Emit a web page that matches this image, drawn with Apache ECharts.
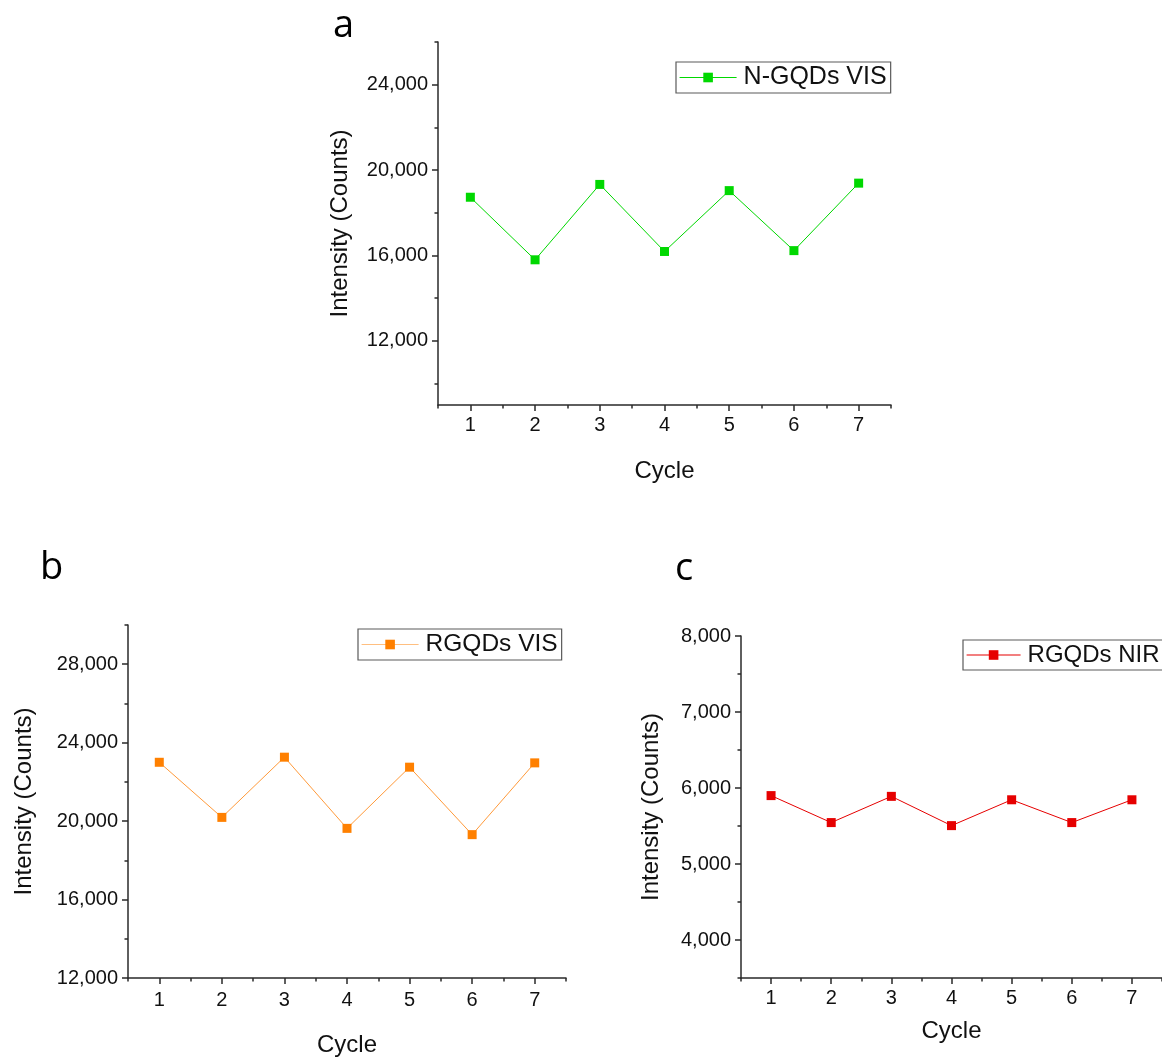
<!DOCTYPE html>
<html>
<head>
<meta charset="utf-8">
<title>Intensity vs Cycle</title>
<script src="https://cdn.jsdelivr.net/npm/echarts@6/dist/echarts.min.js"></script>
<style>
  html, body { margin: 0; padding: 0; background: #ffffff; }
  #chart { width: 1162px; height: 1059px; }
</style>
</head>
<body>
<div id="chart"></div>
<script>
// Cycle numbers shared by all three panels
const cycles = [1, 2, 3, 4, 5, 6, 7];

// Emission intensity per cycle (counts)
const ngqdsVis = [18730, 15800, 19330, 16190, 19040, 16230, 19390];
const rgqdsVis = [23000, 20190, 23260, 19630, 22750, 19310, 22970];
const rgqdsNir = [5900, 5545, 5890, 5505, 5845, 5545, 5845];

// Series names
const seriesNames = ['N-GQDs VIS', 'RGQDs VIS', 'RGQDs NIR'];

// Axis ticks: labelled (major) and unlabelled (minor)
const xTicks = [1, 2, 3, 4, 5, 6, 7];
const xMinorTicks = [0.5, 1.5, 2.5, 3.5, 4.5, 5.5, 6.5, 7.5];
const yTicksA = [12000, 16000, 20000, 24000];
const yMinorA = [10000, 14000, 18000, 22000, 26000];
const yTicksB = [12000, 16000, 20000, 24000, 28000];
const yMinorB = [14000, 18000, 22000, 26000, 30000];
const yTicksC = [4000, 5000, 6000, 7000, 8000];
const yMinorC = [3500, 4500, 5500, 6500, 7500];

const FONT = '"Liberation Sans", Arial, sans-serif';
const AXIS_COLOR = '#2a2a2a';
const TEXT_COLOR = '#111111';

const panels = [
  {
    name: seriesNames[0], values: ngqdsVis, color: '#00d800', lineColor: '#00d800', legendLine: '#00d800',
    grid: { left: 438, top: 42, width: 453, height: 363 },
    yMin: 9000, yMax: 26000, yTicks: yTicksA, yMinor: yMinorA,
    yNameGap: 86, xNameGap: 54, xLabelMargin: 10,
    legend: { left: 676, top: 62, fontSize: 25, itemWidth: 57 }
  },
  {
    name: seriesNames[1], values: rgqdsVis, color: '#ff8000', lineColor: '#ff9a3a', legendLine: '#ffbf80',
    grid: { left: 128, top: 625, width: 438, height: 353 },
    yMin: 12000, yMax: 30000, yTicks: yTicksB, yMinor: yMinorB,
    yNameGap: 92, xNameGap: 55, xLabelMargin: 12,
    legend: { left: 358, top: 629, fontSize: 24.5, itemWidth: 57 }
  },
  {
    name: seriesNames[2], values: rgqdsNir, color: '#e60000', lineColor: '#e60000', legendLine: '#e60000',
    grid: { left: 741, top: 636, width: 422, height: 342 },
    yMin: 3500, yMax: 8000, yTicks: yTicksC, yMinor: yMinorC,
    yNameGap: 78, xNameGap: 41, xLabelMargin: 10,
    legend: { left: 963, top: 640, fontSize: 24, itemWidth: 54 }
  }
];

const grids = [], xAxes = [], yAxes = [], series = [], legends = [];

panels.forEach((p, i) => {
  grids.push(Object.assign({ containLabel: false }, p.grid));

  // Major x axis (labelled)
  xAxes.push({
    type: 'value', gridIndex: i, position: 'bottom', min: 0.5, max: 7.5,
    name: 'Cycle', nameLocation: 'middle', nameGap: p.xNameGap,
    nameTextStyle: { fontFamily: FONT, fontSize: 24, color: TEXT_COLOR },
    axisLine: { show: true, onZero: false, lineStyle: { color: AXIS_COLOR, width: 1.5 } },
    axisTick: { show: true, inside: false, length: 6, customValues: xTicks, lineStyle: { color: AXIS_COLOR, width: 1.5 } },
    axisLabel: { customValues: xTicks, margin: p.xLabelMargin, fontFamily: FONT, fontSize: 20, color: TEXT_COLOR },
    splitLine: { show: false }
  });
  // Minor x ticks
  xAxes.push({
    type: 'value', gridIndex: i, position: 'bottom', min: 0.5, max: 7.5,
    axisLine: { show: false, onZero: false },
    axisTick: { show: true, inside: false, length: 3.5, customValues: xMinorTicks, lineStyle: { color: AXIS_COLOR, width: 1.5 } },
    axisLabel: { show: false },
    splitLine: { show: false }
  });

  // Major y axis (labelled)
  yAxes.push({
    type: 'value', gridIndex: i, position: 'left', min: p.yMin, max: p.yMax,
    name: 'Intensity (Counts)', nameLocation: 'middle', nameGap: p.yNameGap,
    nameTextStyle: { fontFamily: FONT, fontSize: 24, color: TEXT_COLOR },
    axisLine: { show: true, onZero: false, lineStyle: { color: AXIS_COLOR, width: 1.5 } },
    axisTick: { show: true, inside: false, length: 6, customValues: p.yTicks, lineStyle: { color: AXIS_COLOR, width: 1.5 } },
    axisLabel: {
      customValues: p.yTicks, margin: 10, fontFamily: FONT, fontSize: 20, color: TEXT_COLOR,
      formatter: v => Number(v).toLocaleString('en-US')
    },
    splitLine: { show: false }
  });
  // Minor y ticks
  yAxes.push({
    type: 'value', gridIndex: i, position: 'left', min: p.yMin, max: p.yMax,
    axisLine: { show: false, onZero: false },
    axisTick: { show: true, inside: false, length: 3.5, customValues: p.yMinor, lineStyle: { color: AXIS_COLOR, width: 1.5 } },
    axisLabel: { show: false },
    splitLine: { show: false }
  });

  series.push({
    name: p.name, type: 'line',
    xAxisIndex: i * 2, yAxisIndex: i * 2,
    data: cycles.map((c, k) => [c, p.values[k]]),
    symbol: 'rect', symbolSize: 9,
    itemStyle: { color: p.color },
    lineStyle: { color: p.lineColor, width: 1 },
    emphasis: { disabled: true },
    animation: false
  });

  legends.push({
    data: [p.name],
    left: p.legend.left, top: p.legend.top,
    orient: 'horizontal',
    padding: [3, 4, 3, 3],
    itemWidth: p.legend.itemWidth, itemHeight: 12, itemGap: 6,
    borderColor: '#5a5a5a', borderWidth: 1.2, borderRadius: 0,
    backgroundColor: '#ffffff',
    selectedMode: false,
    lineStyle: { color: p.legendLine, width: 1.2 },
    textStyle: { fontFamily: FONT, fontSize: p.legend.fontSize, color: TEXT_COLOR, padding: [0, 0, 0, 2] }
  });
});

// Panel letters
const letterStyle = { fontFamily: '"Open Sans", "Noto Sans", sans-serif', fontSize: 38, fontWeight: 'normal', color: '#000000' };
const titles = [
  { text: 'a', left: 333, top: 7, padding: 0, textStyle: letterStyle },
  { text: 'b', left: 40, top: 549, padding: 0, textStyle: letterStyle },
  { text: 'c', left: 675, top: 550, padding: 0, textStyle: letterStyle }
];

const chart = echarts.init(document.getElementById('chart'), null, { renderer: 'canvas' });
chart.setOption({
  backgroundColor: '#ffffff',
  animation: false,
  title: titles,
  legend: legends,
  grid: grids,
  xAxis: xAxes,
  yAxis: yAxes,
  series: series
});
</script>
</body>
</html>
